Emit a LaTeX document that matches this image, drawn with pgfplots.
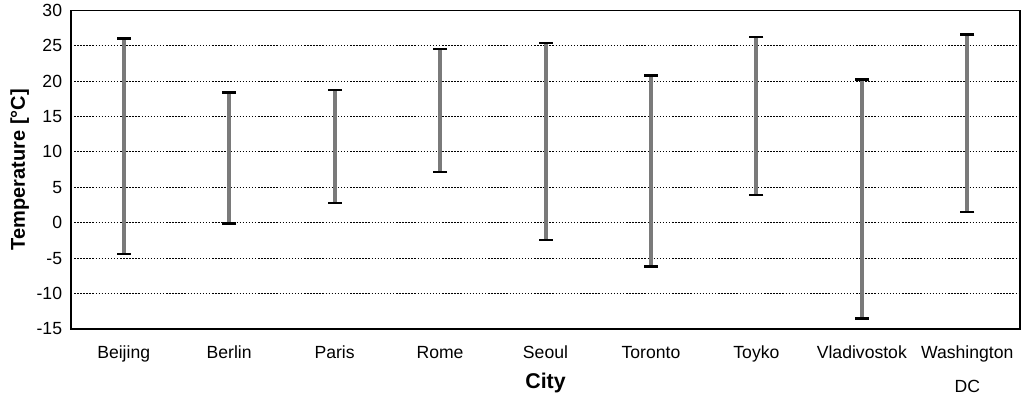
\documentclass[border=0pt]{standalone}
\usepackage{fontspec}
\setmainfont{Liberation Sans}
\usepackage{pgfplots}
\pgfplotsset{compat=1.18}

\begin{document}
\begin{tikzpicture}
\begin{axis}[
  scale only axis,
  width=711.75pt, height=239pt,
  xmin=-0.5, xmax=8.5,
  ymin=-15, ymax=30,
  xtick={0,1,2,3,4,5,6,7,8},
  xticklabels={Beijing,Berlin,Paris,Rome,Seoul,Toronto,Toyko,Vladivostok,
    {\begin{tabular}[t]{@{}c@{}}Washington\\[9pt]DC\end{tabular}}},
  ytick={-15,-10,-5,0,5,10,15,20,25,30},
  yticklabels={-15,-10,-5,0,5,10,15,20,25,30},
  major tick length=0pt,
  axis line style={black, line width=0.9pt},
  ymajorgrids,
  major grid style={black, line width=0.7pt, dash pattern=on 1.1pt off 1.2pt},
  x tick label style={font=\fontsize{13.2pt}{16pt}\selectfont, anchor=base, inner sep=0pt, yshift=-22.5pt},
  y tick label style={font=\fontsize{13.2pt}{16pt}\selectfont, anchor=east, inner sep=0pt, xshift=-6.5pt},
  xlabel={City},
  ylabel={Temperature [°C]},
  xlabel style={font=\fontsize{16pt}{19pt}\selectfont\bfseries,
    at={(axis description cs:0.5,-0.1883)}, anchor=base, inner sep=0pt},
  ylabel style={font=\fontsize{15pt}{18pt}\selectfont\bfseries,
    at={(axis description cs:-0.0485,0.5)}, rotate=0, anchor=base, inner sep=0pt},
  unbounded coords=jump,
]
% temperature range per city: low and high, each range separated by a jump
\addplot[color=black!52, line width=3pt, mark=-, mark size=5.25pt,
  mark options={solid, black, line width=1.8pt}]
  coordinates {
    (0,-4.4) (0,26.0) (0,nan)
    (1,-0.1) (1,18.4) (1,nan)
    (2,2.8)  (2,18.7) (2,nan)
    (3,7.2)  (3,24.5) (3,nan)
    (4,-2.4) (4,25.4) (4,nan)
    (5,-6.2) (5,20.8) (5,nan)
    (6,3.9)  (6,26.2) (6,nan)
    (7,-13.5) (7,20.2) (7,nan)
    (8,1.5)  (8,26.6)
  };
\end{axis}
\pgfresetboundingbox
\useasboundingbox (-53.25pt,-52.5pt) rectangle (715.5pt,246.7pt);
\end{tikzpicture}
\end{document}
